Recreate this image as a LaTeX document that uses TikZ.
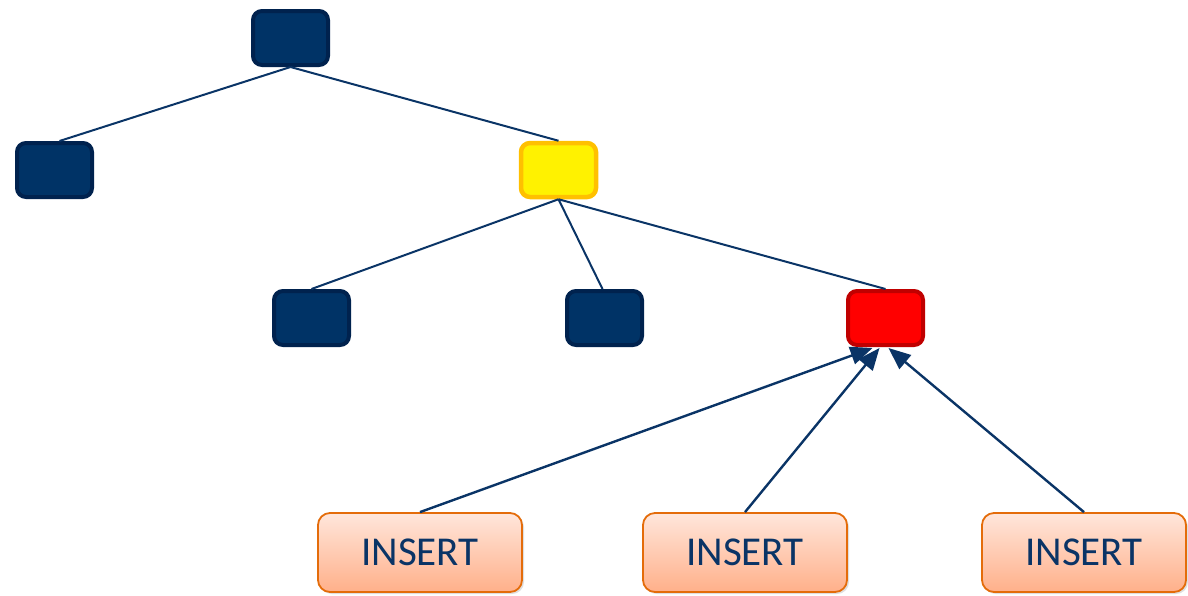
\documentclass[tikz,border=0pt]{standalone}
\usepackage{fontspec}
\setmainfont{Carlito}
\usetikzlibrary{arrows.meta,shadows}
\definecolor{navy}{RGB}{0,51,102}
\definecolor{navyedge}{RGB}{0,34,78}
\definecolor{linkblue}{RGB}{10,52,102}
\definecolor{goldedge}{RGB}{255,192,0}
\definecolor{redfill}{RGB}{255,0,0}
\definecolor{rededge}{RGB}{192,0,0}
\definecolor{peachtop}{RGB}{255,230,219}
\definecolor{peachbot}{RGB}{255,176,138}
\definecolor{orangeedge}{RGB}{228,108,10}
\tikzset{
  treenode/.style={rectangle, rounded corners=9pt, minimum width=75pt, minimum height=54pt,
    inner sep=0pt, line width=4pt, draw=navyedge, fill=navy},
  hotnode/.style={treenode, draw=goldedge, fill=yellow, line width=4.5pt},
  targetnode/.style={treenode, draw=rededge, fill=redfill},
  insertbox/.style={rectangle, rounded corners=12pt, minimum width=204pt, minimum height=79pt,
    inner sep=0pt, line width=1.8pt, draw=orangeedge, top color=peachtop, bottom color=peachbot,
    text=linkblue, font=\fontsize{41}{45}\selectfont,
    drop shadow={shadow xshift=2pt, shadow yshift=-2pt, opacity=0.25}},
  edge/.style={draw=linkblue, line width=2pt},
  push/.style={edge, line width=2.4pt, -{Triangle[length=22pt,width=18pt]}}
}
\begin{document}
\begin{tikzpicture}[x=1pt,y=-1pt]
  \useasboundingbox (0,0) rectangle (1188,595);
  % tree nodes
  \node[treenode] (root) at (290.5,38) {};
  \node[treenode] (left) at (54.5,170) {};
  \node[hotnode] (mid) at (558.5,170) {};
  \node[treenode] (c1) at (311.5,318) {};
  \node[treenode] (c2) at (604.5,318) {};
  \node[targetnode] (c3) at (885.5,318) {};
  % insert requests
  \node[insertbox] (i1) at (420,552.5) {INSERT};
  \node[insertbox] (i2) at (745,552.5) {INSERT};
  \node[insertbox] (i3) at (1084,552.5) {INSERT};
  % anchor points on the target node
  \coordinate (t1) at ([xshift=-13pt,yshift=-1pt]c3.south);
  \coordinate (t2) at ([xshift=-6pt,yshift=-1pt]c3.south);
  \coordinate (t3) at ([xshift=3pt,yshift=-1pt]c3.south);
  % tree edges
  \draw[edge] (root.south) -- ([xshift=5pt]left.north);
  \draw[edge] (root.south) -- (mid.north);
  \draw[edge] (mid.south) -- (c1.north);
  \draw[edge] (mid.south) -- ([xshift=-2pt]c2.north);
  \draw[edge] (mid.south) -- (c3.north);
  % insert arrows
  \draw[push] (i1.north) -- (t1);
  \draw[push] (i2.north) -- (t2);
  \draw[push] (i3.north) -- (t3);
\end{tikzpicture}
\end{document}
